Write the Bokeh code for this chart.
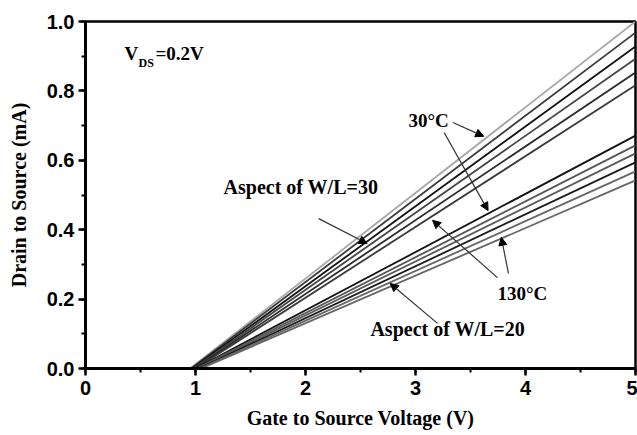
import math
from bokeh.plotting import figure
from bokeh.models import (Label, Arrow, NormalHead, SingleIntervalTicker,
                          PrintfTickFormatter, Range1d)
from bokeh.embed import file_html
from bokeh.resources import INLINE

# Data: straight I-V lines from threshold voltage to Vgs = 5 V
vgs_end = 5.0
# W/L = 30 group (30C at top ... 130C at bottom)
wl30_vth = [0.95, 0.96, 0.97, 0.98, 0.99, 1.00]
wl30_iend = [1.00, 0.968, 0.928, 0.893, 0.853, 0.816]
wl30_colors = ['#a8a8a8', '#3a3a3a', '#111111', '#444444', '#2a2a2a', '#3a3a3a']
# W/L = 20 group
wl20_vth = [1.00, 1.01, 1.02, 1.03, 1.04, 1.05]
wl20_iend = [0.671, 0.643, 0.620, 0.594, 0.568, 0.542]
wl20_colors = ['#111111', '#555555', '#5a5a5a', '#1a1a1a', '#666666', '#666666']

x_ticks_interval = 1
y_ticks_interval = 0.2

p = figure(width=637, height=435, output_backend="svg", toolbar_location=None,
           x_range=Range1d(0, 5), y_range=Range1d(0, 1),
           min_border_left=85, min_border_right=2, min_border_top=21,
           min_border_bottom=67)
p.grid.visible = False
p.outline_line_color = "black"
p.outline_line_width = 2.5
p.background_fill_color = "white"
p.border_fill_color = "white"

for vth, iend, c in zip(wl30_vth, wl30_iend, wl30_colors):
    p.line([vth, vgs_end], [0.0, iend], line_color=c, line_width=1.8)
for vth, iend, c in zip(wl20_vth, wl20_iend, wl20_colors):
    p.line([vth, vgs_end], [0.0, iend], line_color=c, line_width=1.8)

# Axes styling
for ax in (p.xaxis[0], p.yaxis[0]):
    ax.axis_line_width = 3
    ax.major_tick_line_width = 2.5
    ax.minor_tick_line_width = 2
    ax.major_tick_out = 7
    ax.major_tick_in = 0
    ax.minor_tick_out = 4
    ax.minor_tick_in = 0
    ax.major_label_text_font = "Liberation Sans"
    ax.major_label_text_font_style = "bold"
    ax.major_label_text_font_size = "20px"
    ax.major_label_text_color = "black"
    ax.axis_label_text_font = "Liberation Serif"
    ax.axis_label_text_font_style = "bold"
    ax.axis_label_text_font_size = "20px"
    ax.axis_label_text_color = "black"

p.xaxis.ticker = SingleIntervalTicker(interval=x_ticks_interval, num_minor_ticks=2)
p.yaxis.ticker = SingleIntervalTicker(interval=y_ticks_interval, num_minor_ticks=2)
p.yaxis.formatter = PrintfTickFormatter(format="%.1f")
p.xaxis.major_label_standoff = 5
p.yaxis.major_label_standoff = 4
p.xaxis.axis_label = "Gate to Source Voltage (V)"
p.yaxis.axis_label = "Drain to Source (mA)"
p.xaxis.axis_label_standoff = 9
p.yaxis.axis_label_standoff = 14

serif = "Liberation Serif"

def lab(x, y, text, size="20px", align="left", angle=0.0):
    p.add_layout(Label(x=x, y=y, text=text, text_font=serif, text_font_style="bold",
                       text_font_size=size, text_baseline="middle", text_align=align,
                       angle=angle, text_color="black"))

# annotations
lab(0.355, 0.908, "V", size="19px")
lab(0.482, 0.880, "DS", size="12px")
lab(0.636, 0.908, "=0.2V", size="19px")
lab(1.255, 0.524, "Aspect of W/L=30")
lab(2.59, 0.115, "Aspect of W/L=20")
lab(2.936, 0.715, "30°C", size="19px")
lab(3.745, 0.216, "130°C", size="19px")

arrows = [
    (2.12, 0.432, 2.56, 0.360),
    (3.34, 0.709, 3.62, 0.669),
    (3.26, 0.680, 3.66, 0.455),
    (3.745, 0.262, 3.155, 0.427),
    (3.845, 0.274, 3.78, 0.378),
    (3.20, 0.130, 2.77, 0.245),
]
for xs, ys, xe, ye in arrows:
    p.add_layout(Arrow(x_start=xs, y_start=ys, x_end=xe, y_end=ye,
                       line_color="#333333", line_width=1.2,
                       end=NormalHead(size=8, fill_color="black", line_color="black",
                                      line_width=1)))

open("out.html", "w").write(file_html(p, INLINE))
